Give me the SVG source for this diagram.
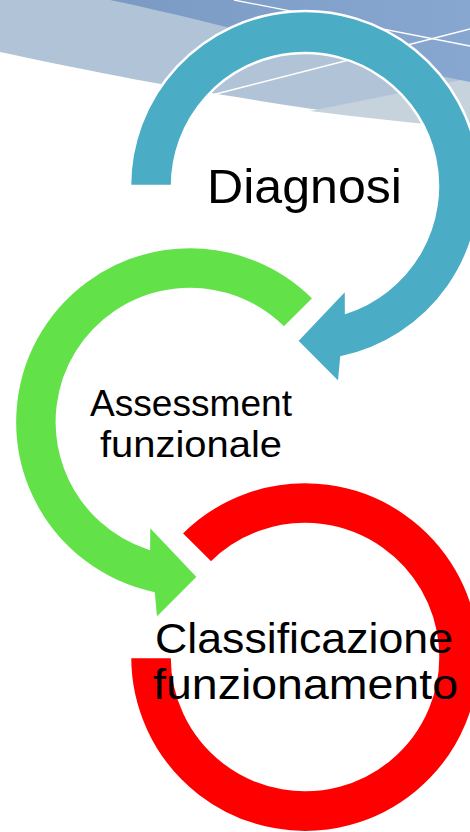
<svg xmlns="http://www.w3.org/2000/svg" width="470" height="832" viewBox="0 0 470 832">
  <defs>
    <linearGradient id="topGrad" x1="0" y1="0" x2="1" y2="0">
      <stop offset="0" stop-color="#7A9AC4"/>
      <stop offset="1" stop-color="#88A7D0"/>
    </linearGradient>
  </defs>
  <style>
    .ring { stroke: #FFFFFF; stroke-width: 2.5; stroke-linejoin: miter; }
    .lbl { font-family: "Liberation Sans", Arial, sans-serif; fill: #000000; text-anchor: middle; }
    .bgline { stroke: #FFFFFF; stroke-width: 1.3; fill: none; }
  </style>
  <rect x="0" y="0" width="470" height="832" fill="#FFFFFF"/>
  <g id="background">
    <path d="M0,0 L470,0 L470,128 C300,112 120,78 0,52 Z" fill="#B1C3D6"/>
    <path d="M310,111 L390,95 L470,78 L470,128 C420,124 360,117 310,111 Z" fill="#C6D2DC"/>
    <path d="M110,0 C190,16 330,55 470,82 L470,0 Z" fill="url(#topGrad)"/>
    <path class="bgline" d="M234,0 L470,46"/>
    <path class="bgline" d="M212,95 L470,29"/>
  </g>
  <g id="connectors"></g>
  <g id="node-diagnosi">
    <path class="ring" fill="#4BACC6" d="M130,186 A175,175 0 1 1 341.4,357.2 L339.0,383.1 L296.9,340.8 L346.0,289.1 L346.1,312.5 A133,133 0 1 0 172,186 Z"/>
  </g>
  <g id="node-assessment">
    <path class="ring" fill="#62E248" d="M313.7,298.3 A175,175 0 1 0 153.6,593.2 L156.0,619.1 L198.1,576.8 L149.0,525.1 L148.9,548.5 A133,133 0 1 1 284.0,328.0 Z"/>
  </g>
  <g id="node-classificazione">
    <path class="ring" fill="#FF0000" d="M181.3,533.3 A175,175 0 1 1 130,657 L172,657 A133,133 0 1 0 211.0,563.0 Z"/>
  </g>
  <g id="labels">
    <text class="lbl" x="304.5" y="203" font-size="49" textLength="195" lengthAdjust="spacingAndGlyphs">Diagnosi</text>
    <text class="lbl" x="191" y="416" font-size="36" textLength="202" lengthAdjust="spacingAndGlyphs">Assessment</text>
    <text class="lbl" x="191" y="457" font-size="36" textLength="182" lengthAdjust="spacingAndGlyphs">funzionale</text>
    <text class="lbl" x="304" y="653" font-size="42" textLength="298" lengthAdjust="spacingAndGlyphs">Classificazione</text>
    <text class="lbl" x="305.5" y="699" font-size="42" textLength="305" lengthAdjust="spacingAndGlyphs">funzionamento</text>
  </g>
</svg>
